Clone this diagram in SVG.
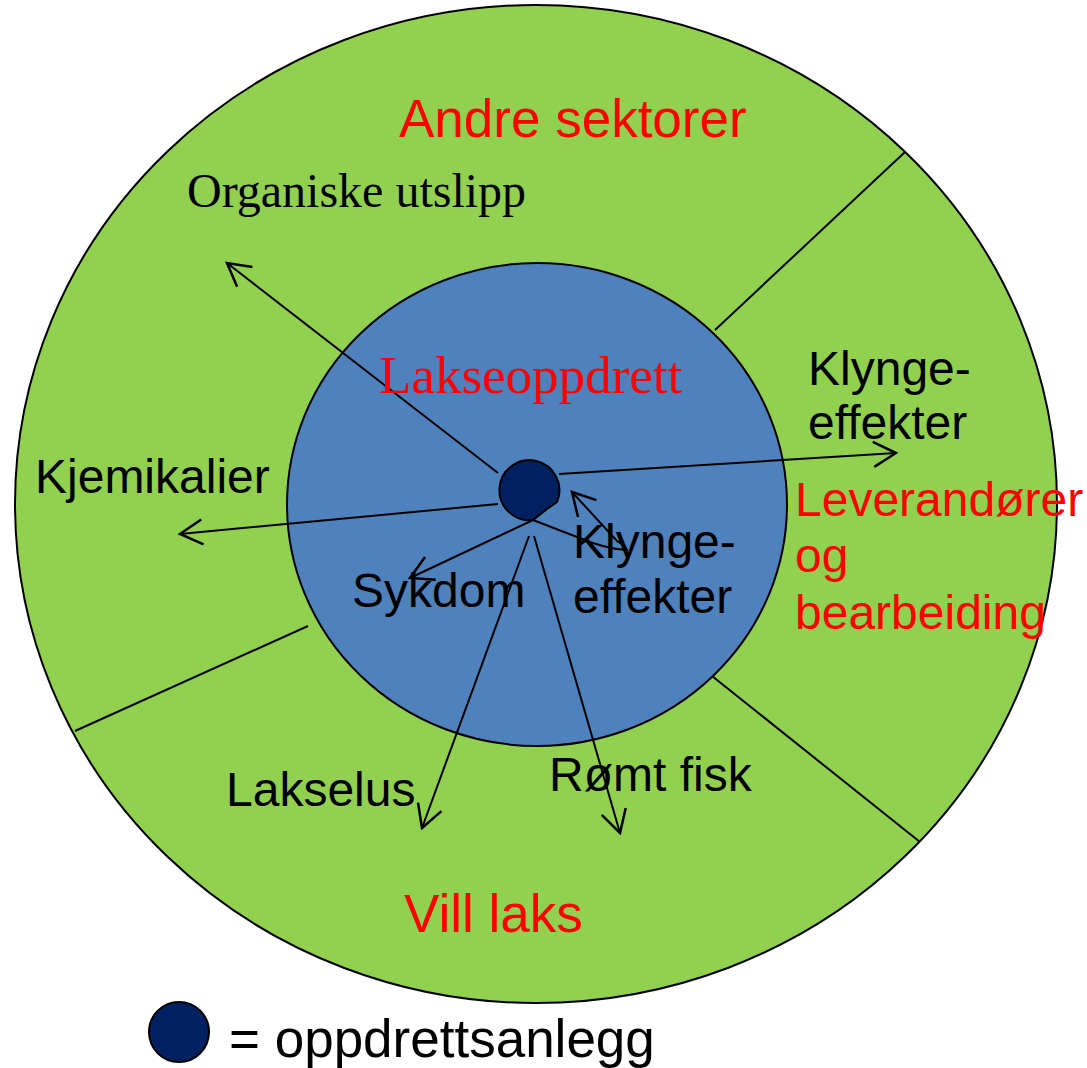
<svg xmlns="http://www.w3.org/2000/svg" width="1087" height="1068" viewBox="0 0 1087 1068">
<defs>
<style>
.sans{font-family:"Liberation Sans",Arial,sans-serif;font-size:48px;fill:#000}
.serif{font-family:"Liberation Serif","Times New Roman",serif;fill:#000}
.red{fill:#FF0000}
.ln{stroke:#000;stroke-width:2;fill:none}
.arr{stroke:#000;stroke-width:2;fill:none;marker-end:url(#ah)}
</style>
<marker id="ah" markerUnits="userSpaceOnUse" markerWidth="30" markerHeight="30" viewBox="-22 -12 24 24" refX="0" refY="0" orient="auto">
<path d="M-18,-10 L0,0 L-18,10" fill="none" stroke="#000" stroke-width="2"/>
</marker>
</defs>
<rect width="1087" height="1068" fill="#fff"/>
<g id="outer">
<ellipse cx="536" cy="504" rx="521" ry="499" fill="#92D050" stroke="#000" stroke-width="2"/>
</g>
<g id="dividers">
<line class="ln" x1="715" y1="330" x2="905" y2="152"/>
<line class="ln" x1="712" y1="676" x2="920" y2="842"/>
<line class="ln" x1="308" y1="626" x2="75" y2="731"/>
</g>
<g id="inner">
<ellipse cx="537" cy="504.5" rx="250" ry="241.5" fill="#4F81BD" stroke="#000" stroke-width="2"/>
</g>
<g id="connectors">
<line class="arr" x1="498" y1="473" x2="227" y2="263"/>
<line class="arr" x1="498" y1="504" x2="180" y2="534"/>
<line class="arr" x1="559" y1="474" x2="896" y2="453"/>
<line class="arr" x1="533" y1="520" x2="410" y2="578"/>
<line class="arr" x1="529" y1="536" x2="422" y2="828"/>
<line class="arr" x1="534" y1="536" x2="620" y2="833"/>
<path class="arr" d="M533,520 L577,537 Q605,549 627,550 Q625,545 617,541 L572,492"/>
</g>
<g id="farm">
<path d="M557,502 A30,30 0 1 0 533,520 L547,509 Z" fill="#002060" stroke="#000" stroke-width="2"/>
</g>
<g id="labels">
<text class="sans red" x="399" y="137" style="font-size:53px">Andre sektorer</text>
<text class="serif" x="187" y="207" style="font-size:48px">Organiske utslipp</text>
<text class="serif red" x="379" y="393" style="font-size:53px">Lakseoppdrett</text>
<text class="sans" x="808" y="385">Klynge-</text>
<text class="sans" x="808" y="439">effekter</text>
<text class="sans" x="35" y="493">Kjemikalier</text>
<text class="sans red" x="795" y="516">Leverandører</text>
<text class="sans red" x="795" y="572">og</text>
<text class="sans red" x="795" y="629">bearbeiding</text>
<text class="sans" x="352" y="607">Sykdom</text>
<text class="sans" x="573" y="558">Klynge-</text>
<text class="sans" x="573" y="613">effekter</text>
<text class="sans" x="226" y="806">Lakselus</text>
<text class="sans" x="549" y="791">Rømt fisk</text>
<text class="sans red" x="404" y="932" style="font-size:53px">Vill laks</text>
</g>
<g id="legend">
<circle cx="179" cy="1032" r="30" fill="#002060" stroke="#000" stroke-width="2"/>
<text class="sans" x="229" y="1057" style="font-size:53px">= oppdrettsanlegg</text>
</g>
</svg>
